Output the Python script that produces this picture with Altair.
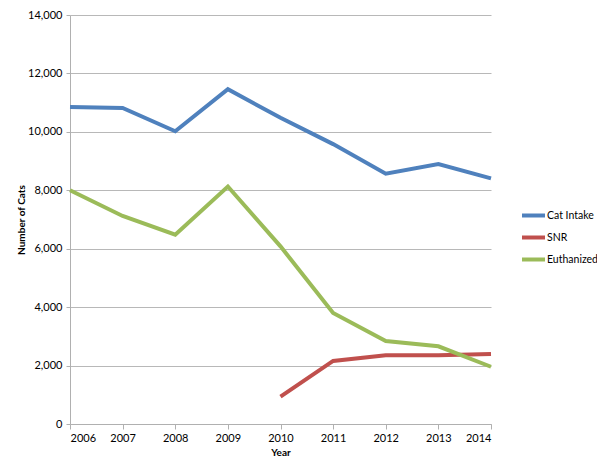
import altair as alt
import pandas as pd

years = [2006, 2007, 2008, 2009, 2010, 2011, 2012, 2013, 2014]
cat_intake = [10850, 10820, 10020, 11460, 10480, 9580, 8570, 8900, 8410]
snr = [None, None, None, None, 940, 2160, 2350, 2350, 2400]
euthanized = [8000, 7120, 6480, 8130, 6080, 3800, 2840, 2660, 1960]

series_names = ["Cat Intake", "SNR", "Euthanized"]
series_colors = ["#4F81BD", "#C0504D", "#9BBB59"]

rows = []
for name, vals in zip(series_names, [cat_intake, snr, euthanized]):
    for y, v in zip(years, vals):
        if v is not None:
            rows.append({"Year": y, "Value": v, "Series": name})
df = pd.DataFrame(rows)

font = "Lato"

chart = alt.Chart(df).mark_line(strokeWidth=4, strokeJoin="miter").encode(
    x=alt.X("Year:Q",
            scale=alt.Scale(domain=[2006, 2014], nice=False, zero=False),
            axis=alt.Axis(values=years, format="d", title="Year", grid=False,
                          tickSize=5, tickColor="#b0b0b0", domainColor="#b0b0b0",
                          labelPadding=3, labelFontSize=11, labelColor="#000",
                          titleFontSize=10, titleFontWeight="bold", titleColor="#000",
                          titlePadding=4, labelFont=font, titleFont=font)),
    y=alt.Y("Value:Q",
            scale=alt.Scale(domain=[0, 14000], nice=False),
            axis=alt.Axis(values=[0, 2000, 4000, 6000, 8000, 10000, 12000, 14000],
                          format=",.0f", title="Number of Cats", grid=True,
                          gridColor="#b8b8b8", tickSize=4, tickColor="#b0b0b0",
                          domainColor="#b0b0b0", labelPadding=4, labelFontSize=11,
                          labelColor="#000", titleFontSize=10, titleFontWeight="bold",
                          titleColor="#000", titlePadding=1, labelFont=font,
                          titleFont=font)),
    color=alt.Color("Series:N",
                    scale=alt.Scale(domain=series_names, range=series_colors),
                    legend=alt.Legend(title=None, orient="none", legendX=450,
                                      legendY=187, symbolType="stroke",
                                      symbolSize=529, symbolStrokeWidth=4,
                                      labelFontSize=10.5, labelFont=font,
                                      labelColor="#000", labelOffset=0,
                                      rowPadding=-2, padding=0)),
    detail="Series:N",
).properties(
    width=421, height=409,
    padding={"left": 62, "top": 7, "right": 106, "bottom": 42},
    autosize=alt.AutoSizeParams(type="none"),
).configure_view(stroke=None)

chart.save("out.html", embed_options={"renderer": "svg", "actions": False})
